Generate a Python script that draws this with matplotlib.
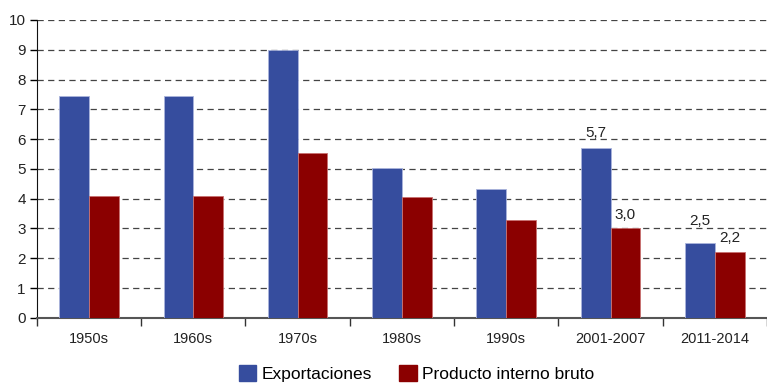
import numpy as np
import matplotlib.pyplot as plt
from matplotlib.patches import Patch

plt.rcParams['font.family'] = ['Liberation Sans', 'DejaVu Sans']

periods = ['1950s', '1960s', '1970s', '1980s', '1990s', '2001-2007', '2011-2014']
exportaciones = [7.45, 7.45, 9.0, 5.03, 4.33, 5.7, 2.5]
pib = [4.1, 4.1, 5.55, 4.06, 3.29, 3.0, 2.2]
labelled = [5, 6]  # groups that carry value labels

blue = '#364d9e'
red = '#8b0000'

fig = plt.figure(figsize=(7.67, 3.83), dpi=100)
ax = fig.add_axes([0.048, 0.170, 0.952, 0.778])

x = np.arange(len(periods))
w = 0.285
ax.bar(x - w / 2, exportaciones, w, color=blue, edgecolor='#aab4dc', linewidth=0.6, zorder=3)
ax.bar(x + w / 2, pib, w, color=red, edgecolor='#c87070', linewidth=0.6, zorder=3)

ax.set_xlim(-0.5, len(periods) - 0.5)
ax.set_ylim(0, 10)
ax.set_yticks(range(0, 11))
ax.yaxis.grid(True, linestyle=(0, (5, 3.5)), color='#444444', linewidth=0.9, zorder=0)

# category separators on the x axis
ax.set_xticks(np.arange(-0.5, len(periods) - 0.4, 1.0))
ax.set_xticklabels([])
ax.set_xticks(x, minor=True)
ax.set_xticklabels(periods, minor=True, fontsize=10.5, color='#222222')
ax.tick_params(axis='x', which='minor', length=0, pad=10)
ax.tick_params(axis='x', which='major', length=6, width=1, color='#333333', direction='out')
ax.tick_params(axis='y', length=5, width=1, labelsize=11, labelcolor='#222222', pad=3)

for s in ['top', 'right']:
    ax.spines[s].set_visible(False)
ax.spines['left'].set_color('#111111')
ax.spines['bottom'].set_color('#555555')
ax.spines['bottom'].set_linewidth(1.5)

def fmt(v):
    return f'{v:.1f}'.replace('.', ',')

exp_off = {5: 6, 6: 11}
pib_off = {5: 5, 6: 5}
for i in labelled:
    ax.annotate(fmt(exportaciones[i]), (x[i] - w / 2, exportaciones[i]),
                xytext=(0, exp_off[i]), textcoords='offset points',
                ha='center', va='bottom', fontsize=11, color='#222222')
    ax.annotate(fmt(pib[i]), (x[i] + w / 2, pib[i]),
                xytext=(0, pib_off[i]), textcoords='offset points',
                ha='center', va='bottom', fontsize=11, color='#222222')

handles = [Patch(color=blue), Patch(color=red)]
fig.legend(handles, ['Exportaciones', 'Producto interno bruto'],
           loc='center', bbox_to_anchor=(0.543, 0.025), ncol=2, frameon=False,
           fontsize=12.5, handlelength=1.0, handleheight=1.0, handletextpad=0.3,
           columnspacing=1.6)

fig.savefig('out.png', dpi=100)
